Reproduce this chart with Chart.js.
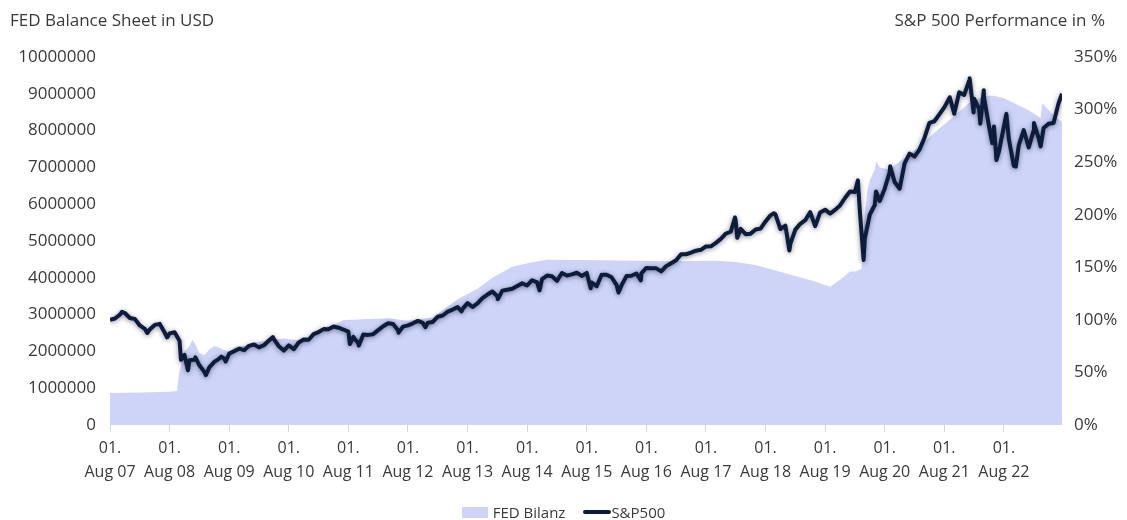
<!DOCTYPE html>
<html>
<head>
<meta charset="utf-8">
<script src="https://cdn.jsdelivr.net/npm/chart.js@4.4.1/dist/chart.umd.min.js"></script>
<style>
  html, body { margin:0; padding:0; background:#fff; }
  #wrap { position:relative; width:1127px; height:520px; font-family:"Open Sans", sans-serif; color:#3a3a3a; }
  canvas { position:absolute; left:0; top:0; }
  .ttl { position:absolute; top:8px; font-size:17px; white-space:nowrap; }
  #legend { position:absolute; top:502px; left:0; width:1127px; display:flex; justify-content:center; align-items:center; font-size:15px; }
  .lg { display:flex; align-items:center; }
  .box { width:26px; height:11px; background:rgb(205,212,248); margin-right:5px; }
  .ln { width:28px; height:4px; background:#0e1c3c; border-radius:2px; }
</style>
</head>
<body>
<div id="wrap">
  <canvas id="c" width="1127" height="520"></canvas>
  <div class="ttl" style="left:10px;">FED Balance Sheet in USD</div>
  <div class="ttl" style="right:22px;">S&amp;P 500 Performance in %</div>
  <div id="legend">
    <div class="lg" style="margin-right:18px;"><div class="box"></div><span>FED Bilanz</span></div>
    <div class="lg"><div class="ln"></div><span>S&amp;P500</span></div>
  </div>
</div>
<script>
// x values are months since 01. Aug 2007
const tickLabels = ['Aug 07','Aug 08','Aug 09','Aug 10','Aug 11','Aug 12','Aug 13','Aug 14','Aug 15','Aug 16','Aug 17','Aug 18','Aug 19','Aug 20','Aug 21','Aug 22'];
const tickPrefix = '01.';

const spMonths = [0,1,2,2.4,3,4,5,6,7,7.5,8,9,10,11,11.5,12,13,14,14.3,15,15.7,16,17,17.2,18,19,19.3,20,21,22,22.4,23,23.3,24,25,26,27,28,29,
30,31,32,32.8,33,34,35,36,37,38,39,40,41,42,43,44,45,46,47,48,48.3,49,50,50.1,51,52,53,54,55,56,57,58,58.1,59,60,61,62,63,63.5,64,65,
66,67,68,69,70,70.8,71,72,73,74,75,76,77,78,78.1,79,80,81,82,83,84,85,86,86.5,87,88,89,90,91,92,93,94,95,96,96.8,97,98,99,100,101,
102,102.4,103,104,105,106,106.9,107,108,109,110,111,112,113,114,115,116,117,118,119,120,121,122,123,124,125,125.85,126,126.3,127,128,129,130,131,132,133,133.7,134,135,136,136.8,137,
138,139,140,141,142,143,144,145,146,147,148,149,150,150.6,151,151.75,152,153,154,154.25,155,156,157,157.1,158,159,160,161,
162,163,164,165,166,167,168,169,169.1,170,171,172,173,173.1,173.9,174,175,175.25,175.95,176,177,177.65,178,178.5,179,180,180.5,181,182,182.4,183,184,185,
186,186.05,187,187.4,188,189,190,191,191.7];
const spValues = [100,101.3,104.9,107.6,106.5,101.8,100.9,94.7,91.5,87.5,90.9,95.2,96.2,88.0,83.4,87.1,88.2,80.2,62,66.6,52,61.6,62.1,64.3,56.8,50.5,47.5,54.8,60.0,63.2,65.0,63.2,60.4,67.9,70.1,72.6,71.2,75.3,76.6,
73.8,75.9,80.4,83.6,81.6,74.9,70.8,75.7,72.1,78.4,81.3,81.1,86.4,88.4,91.2,91.1,93.7,92.5,90.8,88.8,77,83.8,77.8,75.5,86.1,85.7,86.4,90.2,93.9,96.8,96.1,90.1,87.8,93.6,94.8,96.7,99.0,97.1,93.0,97.3,98.0,
103.0,104.1,107.8,109.8,112.1,108.1,110.4,115.9,112.2,115.6,120.7,124.1,127.0,122.5,119.7,127.8,128.7,129.5,132.2,134.7,132.7,137.7,135.6,128.0,138.7,142.1,141.5,137.1,144.6,142.1,143.3,144.8,141.8,144.6,130,135.5,132.0,142.9,143.0,140.5,
133.3,126,132.8,141.6,141.9,144.1,137.5,144.3,149.4,149.2,149.0,146.1,151.1,153.9,156.6,162.4,162.4,163.9,165.8,166.6,169.8,169.9,173.2,177.0,182.0,183.8,197.4,194.1,178,186.5,181.5,182.0,185.9,186.8,193.6,199.4,201.4,200.3,186.4,189.7,166,172.3,
185.8,191.4,194.8,202.5,189.1,202.2,204.8,201.1,204.6,208.8,215.9,222.0,221.7,232.7,203.0,157,177.6,200.2,209.2,222.1,213.1,224.8,240.6,246.0,231.1,224.7,248.9,258.1,
255.3,261.9,273.0,287.4,288.9,295.4,302.1,310.8,311.8,296.0,316.5,313.9,327.6,329.7,297.3,310.3,300.6,286.6,318.3,311.4,284.0,268.1,284.0,252.0,260.2,283.9,295.9,271.8,246.4,245.8,266.1,280.4,263.9,
280.2,287.2,272.9,264.9,282.4,286.6,287.3,305.9,315];

const fedMonths = [0,6,12,13.5,14,15,16,16.6,17,18,19,20,21,22,23,24,25,26,27,28,29,32,35,38,40,41,44,47,50,56,60,65,70,74,77,81,85,88,100,112,122,126,130,134,138,142,145,147,149,150,151.3,151.6,151.8,152,152.5,153,154,154.3,155,157,158,161,164,167,170,173,176,178,180,182,185,187,187.4,187.7,188,189,190,191,191.7];
const fedValues = [870000,880000,905000,925000,1500000,2000000,2150000,2310000,2240000,1950000,1900000,2050000,2150000,2100000,2030000,2000000,2100000,2150000,2150000,2180000,2240000,2300000,2350000,2300000,2300000,2420000,2650000,2850000,2870000,2900000,2830000,2920000,3420000,3700000,4000000,4300000,4420000,4490000,4480000,4450000,4460000,4430000,4350000,4200000,4050000,3900000,3760000,3950000,4170000,4170000,4240000,4670000,5300000,5800000,6370000,6650000,6950000,7170000,7000000,6950000,7060000,7360000,7700000,8060000,8400000,8760000,8940000,8950000,8880000,8750000,8550000,8380000,8340000,8730000,8700000,8560000,8420000,8300000,8250000];

const spData = spMonths.map((m,i)=>({x:m, y:spValues[i]}));
const fedData = fedMonths.map((m,i)=>({x:m, y:fedValues[i]}));

const textColor = '#3a3a3a';
const font = {family:'"Open Sans", sans-serif', size:16};

const shadowPlugin = {
  id:'lineShadow',
  beforeDatasetDraw(chart, args){
    if (args.index === 0) {
      const c = chart.ctx; c.save();
      c.shadowColor = 'rgba(10,20,50,0.5)'; c.shadowBlur = 5; c.shadowOffsetY = 1;
    }
  },
  afterDatasetDraw(chart, args){ if (args.index === 0) chart.ctx.restore(); }
};

new Chart(document.getElementById('c'), {
  type:'line',
  data:{
    datasets:[
      {label:'S&P500', data:spData, yAxisID:'yR', borderColor:'#0e1c3c', borderWidth:4, pointRadius:0, fill:false, tension:0, order:0, borderJoinStyle:'round'},
      {label:'FED Bilanz', data:fedData, yAxisID:'yL', borderWidth:0, borderColor:'rgba(0,0,0,0)', backgroundColor:'rgb(205,212,248)', pointRadius:0, fill:'origin', tension:0, order:1}
    ]
  },
  plugins:[shadowPlugin],
  options:{
    responsive:false, animation:false, devicePixelRatio:1,
    layout:{padding:{top:57, left:0, right:0, bottom:0}},
    plugins:{legend:{display:false}, tooltip:{enabled:false}},
    scales:{
      x:{
        type:'linear', min:0, max:191.7,
        afterFit(s){ s.height = 95; },
        afterBuildTicks(s){ s.ticks = tickLabels.map((l,i)=>({value:i*12})); },
        grid:{drawOnChartArea:false, drawTicks:true, tickLength:7, color:'#d8d8d8'},
        border:{display:false},
        ticks:{autoSkip:false, maxRotation:0, padding:4, color:textColor, font:{...font, lineHeight:1.5},
          callback(v){ const i = Math.round(v/12); return [tickPrefix, tickLabels[i]]; }}
      },
      yL:{
        position:'left', min:0, max:10000000,
        afterFit(s){ s.width = 110; },
        grid:{display:false, drawTicks:false}, border:{display:false},
        ticks:{stepSize:1000000, padding:14, color:textColor, font:{...font, size:17}, callback(v){ return String(v); }}
      },
      yR:{
        position:'right', min:0, max:350,
        afterFit(s){ s.width = 65; },
        grid:{display:false, drawTicks:false}, border:{display:false},
        ticks:{stepSize:50, padding:12, color:textColor, font:{...font, size:17}, callback(v){ return v + '%'; }}
      }
    }
  }
});
</script>
</body>
</html>
